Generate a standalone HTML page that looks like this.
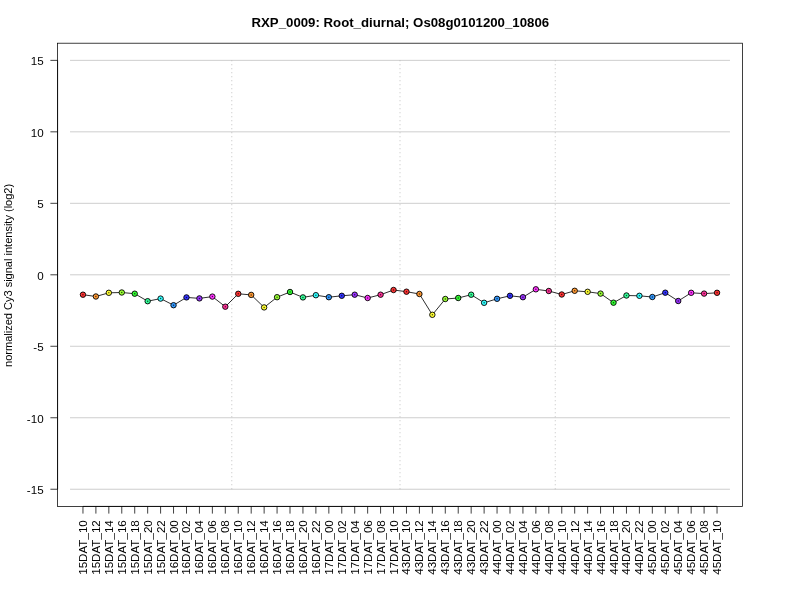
<!DOCTYPE html>
<html><head><meta charset="utf-8"><title>RXP_0009</title>
<style>
html,body{margin:0;padding:0;background:#fff;}
svg{display:block;font-family:"Liberation Sans",Arial,Helvetica,sans-serif;}
</style></head><body>
<svg width="800" height="600" viewBox="0 0 800 600">
<rect width="800" height="600" fill="#fff"/>
<text x="400.3" y="26.6" font-size="13.23" font-weight="bold" text-anchor="middle" fill="#000">RXP_0009: Root_diurnal; Os08g0101200_10806</text>
<text transform="translate(12.0,275.4) rotate(-90)" font-size="11.03" text-anchor="middle" fill="#000">normalized Cy3 signal intensity (log2)</text>
<g stroke="#bebebe" stroke-width="0.75" fill="none">
<line x1="70.02" y1="489.24" x2="729.98" y2="489.24"/>
<line x1="70.02" y1="417.76" x2="729.98" y2="417.76"/>
<line x1="70.02" y1="346.28" x2="729.98" y2="346.28"/>
<line x1="70.02" y1="274.80" x2="729.98" y2="274.80"/>
<line x1="70.02" y1="203.32" x2="729.98" y2="203.32"/>
<line x1="70.02" y1="131.84" x2="729.98" y2="131.84"/>
<line x1="70.02" y1="60.36" x2="729.98" y2="60.36"/>
</g>
<g stroke="#b4b4b4" stroke-width="0.8" stroke-dasharray="1 3" fill="none">
<line x1="231.78" y1="489.24" x2="231.78" y2="60.36"/>
<line x1="400.00" y1="489.24" x2="400.00" y2="60.36"/>
<line x1="555.28" y1="489.24" x2="555.28" y2="60.36"/>
</g>
<rect x="57.6" y="43.2" width="684.8" height="463.2" fill="none" stroke="#000" stroke-width="0.75"/>
<g stroke="#000" stroke-width="0.75" fill="none">
<line x1="57.60" y1="489.24" x2="57.60" y2="60.36"/>
<line x1="82.96" y1="506.40" x2="717.04" y2="506.40"/>
<line x1="50.40" y1="489.24" x2="57.60" y2="489.24"/>
<line x1="50.40" y1="417.76" x2="57.60" y2="417.76"/>
<line x1="50.40" y1="346.28" x2="57.60" y2="346.28"/>
<line x1="50.40" y1="274.80" x2="57.60" y2="274.80"/>
<line x1="50.40" y1="203.32" x2="57.60" y2="203.32"/>
<line x1="50.40" y1="131.84" x2="57.60" y2="131.84"/>
<line x1="50.40" y1="60.36" x2="57.60" y2="60.36"/>
<line x1="82.96" y1="506.40" x2="82.96" y2="513.60"/>
<line x1="95.90" y1="506.40" x2="95.90" y2="513.60"/>
<line x1="108.84" y1="506.40" x2="108.84" y2="513.60"/>
<line x1="121.78" y1="506.40" x2="121.78" y2="513.60"/>
<line x1="134.72" y1="506.40" x2="134.72" y2="513.60"/>
<line x1="147.66" y1="506.40" x2="147.66" y2="513.60"/>
<line x1="160.60" y1="506.40" x2="160.60" y2="513.60"/>
<line x1="173.54" y1="506.40" x2="173.54" y2="513.60"/>
<line x1="186.49" y1="506.40" x2="186.49" y2="513.60"/>
<line x1="199.43" y1="506.40" x2="199.43" y2="513.60"/>
<line x1="212.37" y1="506.40" x2="212.37" y2="513.60"/>
<line x1="225.31" y1="506.40" x2="225.31" y2="513.60"/>
<line x1="238.25" y1="506.40" x2="238.25" y2="513.60"/>
<line x1="251.19" y1="506.40" x2="251.19" y2="513.60"/>
<line x1="264.13" y1="506.40" x2="264.13" y2="513.60"/>
<line x1="277.07" y1="506.40" x2="277.07" y2="513.60"/>
<line x1="290.01" y1="506.40" x2="290.01" y2="513.60"/>
<line x1="302.95" y1="506.40" x2="302.95" y2="513.60"/>
<line x1="315.89" y1="506.40" x2="315.89" y2="513.60"/>
<line x1="328.83" y1="506.40" x2="328.83" y2="513.60"/>
<line x1="341.77" y1="506.40" x2="341.77" y2="513.60"/>
<line x1="354.71" y1="506.40" x2="354.71" y2="513.60"/>
<line x1="367.65" y1="506.40" x2="367.65" y2="513.60"/>
<line x1="380.59" y1="506.40" x2="380.59" y2="513.60"/>
<line x1="393.53" y1="506.40" x2="393.53" y2="513.60"/>
<line x1="406.47" y1="506.40" x2="406.47" y2="513.60"/>
<line x1="419.41" y1="506.40" x2="419.41" y2="513.60"/>
<line x1="432.35" y1="506.40" x2="432.35" y2="513.60"/>
<line x1="445.29" y1="506.40" x2="445.29" y2="513.60"/>
<line x1="458.23" y1="506.40" x2="458.23" y2="513.60"/>
<line x1="471.17" y1="506.40" x2="471.17" y2="513.60"/>
<line x1="484.11" y1="506.40" x2="484.11" y2="513.60"/>
<line x1="497.05" y1="506.40" x2="497.05" y2="513.60"/>
<line x1="509.99" y1="506.40" x2="509.99" y2="513.60"/>
<line x1="522.93" y1="506.40" x2="522.93" y2="513.60"/>
<line x1="535.87" y1="506.40" x2="535.87" y2="513.60"/>
<line x1="548.81" y1="506.40" x2="548.81" y2="513.60"/>
<line x1="561.75" y1="506.40" x2="561.75" y2="513.60"/>
<line x1="574.69" y1="506.40" x2="574.69" y2="513.60"/>
<line x1="587.63" y1="506.40" x2="587.63" y2="513.60"/>
<line x1="600.57" y1="506.40" x2="600.57" y2="513.60"/>
<line x1="613.51" y1="506.40" x2="613.51" y2="513.60"/>
<line x1="626.46" y1="506.40" x2="626.46" y2="513.60"/>
<line x1="639.40" y1="506.40" x2="639.40" y2="513.60"/>
<line x1="652.34" y1="506.40" x2="652.34" y2="513.60"/>
<line x1="665.28" y1="506.40" x2="665.28" y2="513.60"/>
<line x1="678.22" y1="506.40" x2="678.22" y2="513.60"/>
<line x1="691.16" y1="506.40" x2="691.16" y2="513.60"/>
<line x1="704.10" y1="506.40" x2="704.10" y2="513.60"/>
<line x1="717.04" y1="506.40" x2="717.04" y2="513.60"/>
</g>
<g font-size="11.6" fill="#000" text-anchor="end">
<text x="43.6" y="493.9">-15</text>
<text x="43.6" y="422.5">-10</text>
<text x="43.6" y="351.0">-5</text>
<text x="43.6" y="279.5">0</text>
<text x="43.6" y="208.0">5</text>
<text x="43.6" y="136.5">10</text>
<text x="43.6" y="65.1">15</text>
</g>
<g font-size="11.6" fill="#000" text-anchor="end">
<text transform="translate(86.96,520.2) rotate(-90)">15DAT_10</text>
<text transform="translate(99.90,520.2) rotate(-90)">15DAT_12</text>
<text transform="translate(112.84,520.2) rotate(-90)">15DAT_14</text>
<text transform="translate(125.78,520.2) rotate(-90)">15DAT_16</text>
<text transform="translate(138.72,520.2) rotate(-90)">15DAT_18</text>
<text transform="translate(151.66,520.2) rotate(-90)">15DAT_20</text>
<text transform="translate(164.60,520.2) rotate(-90)">15DAT_22</text>
<text transform="translate(177.54,520.2) rotate(-90)">16DAT_00</text>
<text transform="translate(190.49,520.2) rotate(-90)">16DAT_02</text>
<text transform="translate(203.43,520.2) rotate(-90)">16DAT_04</text>
<text transform="translate(216.37,520.2) rotate(-90)">16DAT_06</text>
<text transform="translate(229.31,520.2) rotate(-90)">16DAT_08</text>
<text transform="translate(242.25,520.2) rotate(-90)">16DAT_10</text>
<text transform="translate(255.19,520.2) rotate(-90)">16DAT_12</text>
<text transform="translate(268.13,520.2) rotate(-90)">16DAT_14</text>
<text transform="translate(281.07,520.2) rotate(-90)">16DAT_16</text>
<text transform="translate(294.01,520.2) rotate(-90)">16DAT_18</text>
<text transform="translate(306.95,520.2) rotate(-90)">16DAT_20</text>
<text transform="translate(319.89,520.2) rotate(-90)">16DAT_22</text>
<text transform="translate(332.83,520.2) rotate(-90)">17DAT_00</text>
<text transform="translate(345.77,520.2) rotate(-90)">17DAT_02</text>
<text transform="translate(358.71,520.2) rotate(-90)">17DAT_04</text>
<text transform="translate(371.65,520.2) rotate(-90)">17DAT_06</text>
<text transform="translate(384.59,520.2) rotate(-90)">17DAT_08</text>
<text transform="translate(397.53,520.2) rotate(-90)">17DAT_10</text>
<text transform="translate(410.47,520.2) rotate(-90)">43DAT_10</text>
<text transform="translate(423.41,520.2) rotate(-90)">43DAT_12</text>
<text transform="translate(436.35,520.2) rotate(-90)">43DAT_14</text>
<text transform="translate(449.29,520.2) rotate(-90)">43DAT_16</text>
<text transform="translate(462.23,520.2) rotate(-90)">43DAT_18</text>
<text transform="translate(475.17,520.2) rotate(-90)">43DAT_20</text>
<text transform="translate(488.11,520.2) rotate(-90)">43DAT_22</text>
<text transform="translate(501.05,520.2) rotate(-90)">44DAT_00</text>
<text transform="translate(513.99,520.2) rotate(-90)">44DAT_02</text>
<text transform="translate(526.93,520.2) rotate(-90)">44DAT_04</text>
<text transform="translate(539.87,520.2) rotate(-90)">44DAT_06</text>
<text transform="translate(552.81,520.2) rotate(-90)">44DAT_08</text>
<text transform="translate(565.75,520.2) rotate(-90)">44DAT_10</text>
<text transform="translate(578.69,520.2) rotate(-90)">44DAT_12</text>
<text transform="translate(591.63,520.2) rotate(-90)">44DAT_14</text>
<text transform="translate(604.57,520.2) rotate(-90)">44DAT_16</text>
<text transform="translate(617.51,520.2) rotate(-90)">44DAT_18</text>
<text transform="translate(630.46,520.2) rotate(-90)">44DAT_20</text>
<text transform="translate(643.40,520.2) rotate(-90)">44DAT_22</text>
<text transform="translate(656.34,520.2) rotate(-90)">45DAT_00</text>
<text transform="translate(669.28,520.2) rotate(-90)">45DAT_02</text>
<text transform="translate(682.22,520.2) rotate(-90)">45DAT_04</text>
<text transform="translate(695.16,520.2) rotate(-90)">45DAT_06</text>
<text transform="translate(708.10,520.2) rotate(-90)">45DAT_08</text>
<text transform="translate(721.04,520.2) rotate(-90)">45DAT_10</text>
</g>
<polyline points="82.96,294.70 95.90,296.50 108.84,292.80 121.78,292.50 134.72,293.70 147.66,301.20 160.60,298.60 173.54,305.20 186.49,297.40 199.43,298.40 212.37,296.60 225.31,306.70 238.25,293.80 251.19,294.90 264.13,307.40 277.07,297.20 290.01,292.00 302.95,297.40 315.89,295.20 328.83,297.20 341.77,295.80 354.71,294.70 367.65,298.00 380.59,294.70 393.53,290.00 406.47,291.70 419.41,294.00 432.35,314.80 445.29,299.00 458.23,298.00 471.17,294.70 484.11,302.80 497.05,298.80 509.99,295.80 522.93,297.20 535.87,289.30 548.81,291.00 561.75,294.50 574.69,290.80 587.63,291.80 600.57,293.60 613.51,302.70 626.46,295.50 639.40,295.80 652.34,297.00 665.28,292.70 678.22,301.00 691.16,292.80 704.10,293.60 717.04,292.80" fill="none" stroke="#000" stroke-width="0.82" stroke-linejoin="round"/>
<circle cx="82.96" cy="294.70" r="2.72" fill="#FF3333" stroke="#000" stroke-width="0.9"/>
<circle cx="82.96" cy="294.70" r="0.75" fill="#000" fill-opacity="0.7"/>
<circle cx="95.90" cy="296.50" r="2.72" fill="#FF9933" stroke="#000" stroke-width="0.9"/>
<circle cx="95.90" cy="296.50" r="0.75" fill="#000" fill-opacity="0.7"/>
<circle cx="108.84" cy="292.80" r="2.72" fill="#FFFF33" stroke="#000" stroke-width="0.9"/>
<circle cx="108.84" cy="292.80" r="0.75" fill="#000" fill-opacity="0.7"/>
<circle cx="121.78" cy="292.50" r="2.72" fill="#99FF33" stroke="#000" stroke-width="0.9"/>
<circle cx="121.78" cy="292.50" r="0.75" fill="#000" fill-opacity="0.7"/>
<circle cx="134.72" cy="293.70" r="2.72" fill="#33FF33" stroke="#000" stroke-width="0.9"/>
<circle cx="134.72" cy="293.70" r="0.75" fill="#000" fill-opacity="0.7"/>
<circle cx="147.66" cy="301.20" r="2.72" fill="#33FF99" stroke="#000" stroke-width="0.9"/>
<circle cx="147.66" cy="301.20" r="0.75" fill="#000" fill-opacity="0.7"/>
<circle cx="160.60" cy="298.60" r="2.72" fill="#33FFFF" stroke="#000" stroke-width="0.9"/>
<circle cx="160.60" cy="298.60" r="0.75" fill="#000" fill-opacity="0.7"/>
<circle cx="173.54" cy="305.20" r="2.72" fill="#3399FF" stroke="#000" stroke-width="0.9"/>
<circle cx="173.54" cy="305.20" r="0.75" fill="#000" fill-opacity="0.7"/>
<circle cx="186.49" cy="297.40" r="2.72" fill="#3333FF" stroke="#000" stroke-width="0.9"/>
<circle cx="186.49" cy="297.40" r="0.75" fill="#000" fill-opacity="0.7"/>
<circle cx="199.43" cy="298.40" r="2.72" fill="#9933FF" stroke="#000" stroke-width="0.9"/>
<circle cx="199.43" cy="298.40" r="0.75" fill="#000" fill-opacity="0.7"/>
<circle cx="212.37" cy="296.60" r="2.72" fill="#FF33FF" stroke="#000" stroke-width="0.9"/>
<circle cx="212.37" cy="296.60" r="0.75" fill="#000" fill-opacity="0.7"/>
<circle cx="225.31" cy="306.70" r="2.72" fill="#FF3399" stroke="#000" stroke-width="0.9"/>
<circle cx="225.31" cy="306.70" r="0.75" fill="#000" fill-opacity="0.7"/>
<circle cx="238.25" cy="293.80" r="2.72" fill="#FF3333" stroke="#000" stroke-width="0.9"/>
<circle cx="238.25" cy="293.80" r="0.75" fill="#000" fill-opacity="0.7"/>
<circle cx="251.19" cy="294.90" r="2.72" fill="#FF9933" stroke="#000" stroke-width="0.9"/>
<circle cx="251.19" cy="294.90" r="0.75" fill="#000" fill-opacity="0.7"/>
<circle cx="264.13" cy="307.40" r="2.72" fill="#FFFF33" stroke="#000" stroke-width="0.9"/>
<circle cx="264.13" cy="307.40" r="0.75" fill="#000" fill-opacity="0.7"/>
<circle cx="277.07" cy="297.20" r="2.72" fill="#99FF33" stroke="#000" stroke-width="0.9"/>
<circle cx="277.07" cy="297.20" r="0.75" fill="#000" fill-opacity="0.7"/>
<circle cx="290.01" cy="292.00" r="2.72" fill="#33FF33" stroke="#000" stroke-width="0.9"/>
<circle cx="290.01" cy="292.00" r="0.75" fill="#000" fill-opacity="0.7"/>
<circle cx="302.95" cy="297.40" r="2.72" fill="#33FF99" stroke="#000" stroke-width="0.9"/>
<circle cx="302.95" cy="297.40" r="0.75" fill="#000" fill-opacity="0.7"/>
<circle cx="315.89" cy="295.20" r="2.72" fill="#33FFFF" stroke="#000" stroke-width="0.9"/>
<circle cx="315.89" cy="295.20" r="0.75" fill="#000" fill-opacity="0.7"/>
<circle cx="328.83" cy="297.20" r="2.72" fill="#3399FF" stroke="#000" stroke-width="0.9"/>
<circle cx="328.83" cy="297.20" r="0.75" fill="#000" fill-opacity="0.7"/>
<circle cx="341.77" cy="295.80" r="2.72" fill="#3333FF" stroke="#000" stroke-width="0.9"/>
<circle cx="341.77" cy="295.80" r="0.75" fill="#000" fill-opacity="0.7"/>
<circle cx="354.71" cy="294.70" r="2.72" fill="#9933FF" stroke="#000" stroke-width="0.9"/>
<circle cx="354.71" cy="294.70" r="0.75" fill="#000" fill-opacity="0.7"/>
<circle cx="367.65" cy="298.00" r="2.72" fill="#FF33FF" stroke="#000" stroke-width="0.9"/>
<circle cx="367.65" cy="298.00" r="0.75" fill="#000" fill-opacity="0.7"/>
<circle cx="380.59" cy="294.70" r="2.72" fill="#FF3399" stroke="#000" stroke-width="0.9"/>
<circle cx="380.59" cy="294.70" r="0.75" fill="#000" fill-opacity="0.7"/>
<circle cx="393.53" cy="290.00" r="2.72" fill="#FF3333" stroke="#000" stroke-width="0.9"/>
<circle cx="393.53" cy="290.00" r="0.75" fill="#000" fill-opacity="0.7"/>
<circle cx="406.47" cy="291.70" r="2.72" fill="#FF3333" stroke="#000" stroke-width="0.9"/>
<circle cx="406.47" cy="291.70" r="0.75" fill="#000" fill-opacity="0.7"/>
<circle cx="419.41" cy="294.00" r="2.72" fill="#FF9933" stroke="#000" stroke-width="0.9"/>
<circle cx="419.41" cy="294.00" r="0.75" fill="#000" fill-opacity="0.7"/>
<circle cx="432.35" cy="314.80" r="2.72" fill="#FFFF33" stroke="#000" stroke-width="0.9"/>
<circle cx="432.35" cy="314.80" r="0.75" fill="#000" fill-opacity="0.7"/>
<circle cx="445.29" cy="299.00" r="2.72" fill="#99FF33" stroke="#000" stroke-width="0.9"/>
<circle cx="445.29" cy="299.00" r="0.75" fill="#000" fill-opacity="0.7"/>
<circle cx="458.23" cy="298.00" r="2.72" fill="#33FF33" stroke="#000" stroke-width="0.9"/>
<circle cx="458.23" cy="298.00" r="0.75" fill="#000" fill-opacity="0.7"/>
<circle cx="471.17" cy="294.70" r="2.72" fill="#33FF99" stroke="#000" stroke-width="0.9"/>
<circle cx="471.17" cy="294.70" r="0.75" fill="#000" fill-opacity="0.7"/>
<circle cx="484.11" cy="302.80" r="2.72" fill="#33FFFF" stroke="#000" stroke-width="0.9"/>
<circle cx="484.11" cy="302.80" r="0.75" fill="#000" fill-opacity="0.7"/>
<circle cx="497.05" cy="298.80" r="2.72" fill="#3399FF" stroke="#000" stroke-width="0.9"/>
<circle cx="497.05" cy="298.80" r="0.75" fill="#000" fill-opacity="0.7"/>
<circle cx="509.99" cy="295.80" r="2.72" fill="#3333FF" stroke="#000" stroke-width="0.9"/>
<circle cx="509.99" cy="295.80" r="0.75" fill="#000" fill-opacity="0.7"/>
<circle cx="522.93" cy="297.20" r="2.72" fill="#9933FF" stroke="#000" stroke-width="0.9"/>
<circle cx="522.93" cy="297.20" r="0.75" fill="#000" fill-opacity="0.7"/>
<circle cx="535.87" cy="289.30" r="2.72" fill="#FF33FF" stroke="#000" stroke-width="0.9"/>
<circle cx="535.87" cy="289.30" r="0.75" fill="#000" fill-opacity="0.7"/>
<circle cx="548.81" cy="291.00" r="2.72" fill="#FF3399" stroke="#000" stroke-width="0.9"/>
<circle cx="548.81" cy="291.00" r="0.75" fill="#000" fill-opacity="0.7"/>
<circle cx="561.75" cy="294.50" r="2.72" fill="#FF3333" stroke="#000" stroke-width="0.9"/>
<circle cx="561.75" cy="294.50" r="0.75" fill="#000" fill-opacity="0.7"/>
<circle cx="574.69" cy="290.80" r="2.72" fill="#FF9933" stroke="#000" stroke-width="0.9"/>
<circle cx="574.69" cy="290.80" r="0.75" fill="#000" fill-opacity="0.7"/>
<circle cx="587.63" cy="291.80" r="2.72" fill="#FFFF33" stroke="#000" stroke-width="0.9"/>
<circle cx="587.63" cy="291.80" r="0.75" fill="#000" fill-opacity="0.7"/>
<circle cx="600.57" cy="293.60" r="2.72" fill="#99FF33" stroke="#000" stroke-width="0.9"/>
<circle cx="600.57" cy="293.60" r="0.75" fill="#000" fill-opacity="0.7"/>
<circle cx="613.51" cy="302.70" r="2.72" fill="#33FF33" stroke="#000" stroke-width="0.9"/>
<circle cx="613.51" cy="302.70" r="0.75" fill="#000" fill-opacity="0.7"/>
<circle cx="626.46" cy="295.50" r="2.72" fill="#33FF99" stroke="#000" stroke-width="0.9"/>
<circle cx="626.46" cy="295.50" r="0.75" fill="#000" fill-opacity="0.7"/>
<circle cx="639.40" cy="295.80" r="2.72" fill="#33FFFF" stroke="#000" stroke-width="0.9"/>
<circle cx="639.40" cy="295.80" r="0.75" fill="#000" fill-opacity="0.7"/>
<circle cx="652.34" cy="297.00" r="2.72" fill="#3399FF" stroke="#000" stroke-width="0.9"/>
<circle cx="652.34" cy="297.00" r="0.75" fill="#000" fill-opacity="0.7"/>
<circle cx="665.28" cy="292.70" r="2.72" fill="#3333FF" stroke="#000" stroke-width="0.9"/>
<circle cx="665.28" cy="292.70" r="0.75" fill="#000" fill-opacity="0.7"/>
<circle cx="678.22" cy="301.00" r="2.72" fill="#9933FF" stroke="#000" stroke-width="0.9"/>
<circle cx="678.22" cy="301.00" r="0.75" fill="#000" fill-opacity="0.7"/>
<circle cx="691.16" cy="292.80" r="2.72" fill="#FF33FF" stroke="#000" stroke-width="0.9"/>
<circle cx="691.16" cy="292.80" r="0.75" fill="#000" fill-opacity="0.7"/>
<circle cx="704.10" cy="293.60" r="2.72" fill="#FF3399" stroke="#000" stroke-width="0.9"/>
<circle cx="704.10" cy="293.60" r="0.75" fill="#000" fill-opacity="0.7"/>
<circle cx="717.04" cy="292.80" r="2.72" fill="#FF3333" stroke="#000" stroke-width="0.9"/>
<circle cx="717.04" cy="292.80" r="0.75" fill="#000" fill-opacity="0.7"/>
</svg></body></html>
